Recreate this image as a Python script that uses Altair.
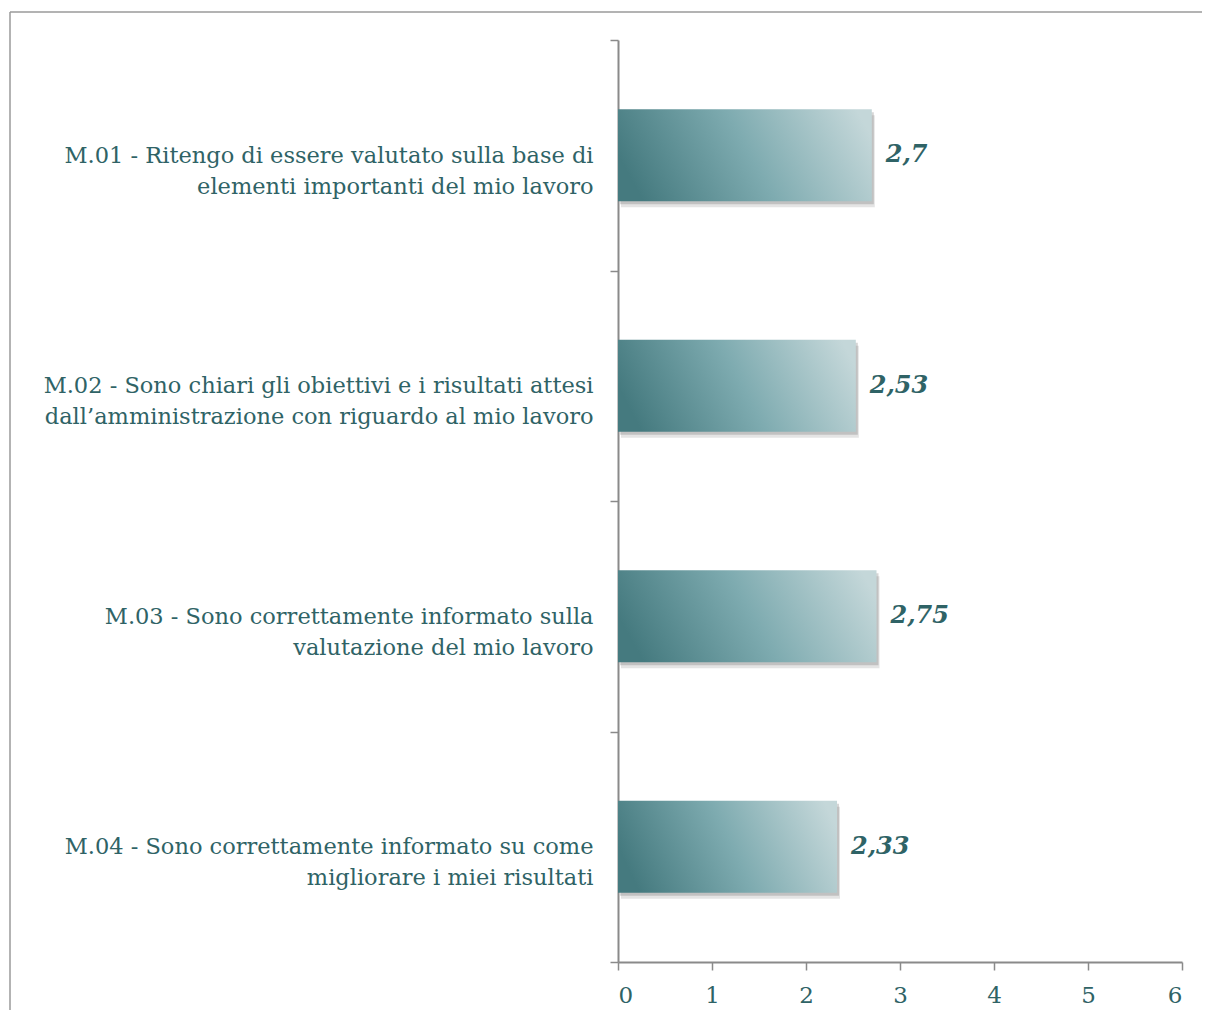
import altair as alt
import pandas as pd

categories = [
    "M.01 - Ritengo di essere valutato sulla base di|elementi importanti del mio lavoro",
    "M.02 - Sono chiari gli obiettivi e i risultati attesi|dall\u2019amministrazione con riguardo al mio lavoro",
    "M.03 - Sono correttamente informato sulla|valutazione del mio lavoro",
    "M.04 - Sono correttamente informato su come|migliorare i miei risultati",
]
values = [2.7, 2.53, 2.75, 2.33]
x_ticks = [0, 1, 2, 3, 4, 5, 6]

df = pd.DataFrame({"cat": categories, "value": values})

TEAL = "#2f6366"
AXIS_GRAY = "#8a8a8a"
FONT = "DejaVu Serif"

y_enc = alt.Y(
    "cat:N",
    sort=categories,
    scale=alt.Scale(paddingInner=0, paddingOuter=0),
    axis=alt.Axis(
        title=None,
        labelExpr="split(datum.label, '|')",
        labelAlign="right",
        labelBaseline="middle",
        labelLineHeight=31,
        labelLimit=0,
        labelPadding=17,
        labelFont=FONT,
        labelFontSize=22.5,
        labelColor=TEAL,
        tickBand="extent",
        tickSize=8,
        tickColor=AXIS_GRAY,
        tickWidth=1.5,
        domainColor=AXIS_GRAY,
        domainWidth=2,
        grid=False,
    ),
)

x_enc = alt.X(
    "value:Q",
    scale=alt.Scale(domain=[0, 6], nice=False),
    axis=alt.Axis(
        title=None,
        values=x_ticks,
        tickSize=8,
        tickColor=AXIS_GRAY,
        tickWidth=1.5,
        domainColor=AXIS_GRAY,
        domainWidth=2,
        labelFont=FONT,
        labelFontSize=23,
        labelColor=TEAL,
        labelPadding=14,
        grid=False,
    ),
)

base = alt.Chart(df)
band = alt.RelativeBandSize(0.4)

shadow1 = base.mark_bar(color="#555555", opacity=0.16, xOffset=3, yOffset=6, height=band).encode(x=x_enc, y=y_enc)
shadow2 = base.mark_bar(color="#555555", opacity=0.24, xOffset=2, yOffset=3, height=band).encode(x=x_enc, y=y_enc)

gradient = alt.Gradient(
    gradient="linear",
    x1=0, y1=0.5, x2=1, y2=0.3,
    stops=[
        alt.GradientStop(offset=0, color="#457a7f"),
        alt.GradientStop(offset=0.5, color="#7eabb0"),
        alt.GradientStop(offset=1, color="#c4d7d9"),
    ],
)
bars = base.mark_bar(color=gradient, height=band).encode(x=x_enc, y=y_enc)

labels = base.transform_calculate(
    lab="replace(toString(datum.value), '.', ',')"
).mark_text(
    align="left", baseline="middle", dx=14, font=FONT, fontSize=24,
    fontStyle="italic", fontWeight="bold", color=TEAL,
).encode(x=x_enc, y=y_enc, text="lab:N")

frame_data = alt.Data(values=[{"a": 1}])
frame_top = alt.Chart(frame_data).mark_rule(color="#9a9a9a", strokeWidth=1.5).encode(
    x=alt.value(-608), x2=alt.value(620), y=alt.value(-28)
)
frame_left = alt.Chart(frame_data).mark_rule(color="#9a9a9a", strokeWidth=1.5).encode(
    x=alt.value(-608), y=alt.value(-28), y2=alt.value(1000)
)

chart = alt.layer(frame_top, frame_left, shadow1, shadow2, bars, labels).properties(
    width=564,
    height=922,
    autosize=alt.AutoSizeParams(type="none"),
    padding={"left": 610, "top": 32, "right": 20, "bottom": 48},
).configure_view(stroke=None)

chart.save("out.html", embed_options={"renderer": "svg", "actions": False})
